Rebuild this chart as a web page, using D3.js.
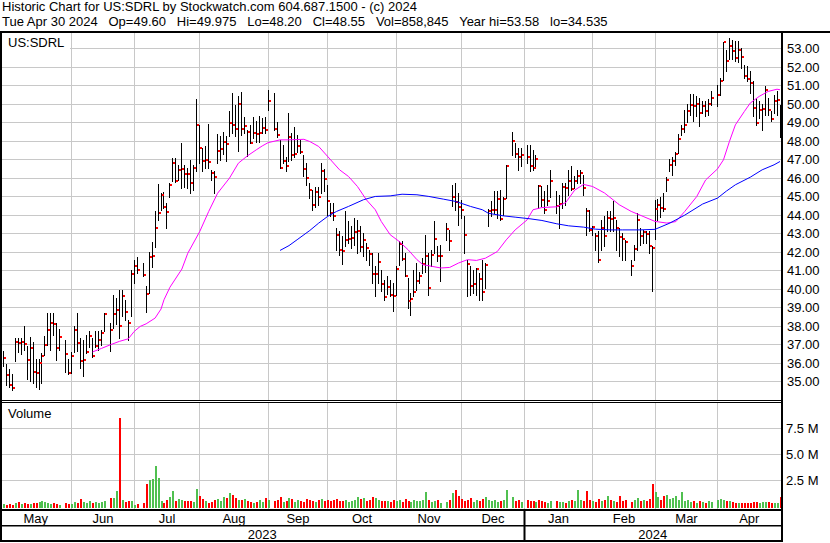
<!DOCTYPE html>
<html><head><meta charset="utf-8">
<script src="https://cdn.jsdelivr.net/npm/d3@7"></script>
<style>
html,body{margin:0;padding:0;background:#fff}
svg{display:block}
text{font-family:"Liberation Sans",Arial,sans-serif;font-size:13px;fill:#000}
</style>
</head><body>
<svg id="c" width="830" height="543"></svg>
<script>
// ---------- DATA ----------
const titleLine1 = "Historic Chart for US:SDRL by Stockwatch.com 604.687.1500 - (c) 2024";
const titleLine2 = "Tue Apr 30 2024   Op=49.60   Hi=49.975   Lo=48.20   Cl=48.55   Vol=858,845   Year hi=53.58   lo=34.535";
const symbolLabel = "US:SDRL";
const volumeLabel = "Volume";
const startDate = "2023-05-01", endDate = "2024-04-30";
const holidays = ["2023-05-29","2023-06-19","2023-07-04","2023-09-04","2023-11-23","2023-12-25","2024-01-01","2024-01-15","2024-02-19","2024-03-29"];
const monthLabels = ["May","Jun","Jul","Aug","Sep","Oct","Nov","Dec","Jan","Feb","Mar","Apr"];
const yearLabels = ["2023","2024"];
const priceTicks = [35,36,37,38,39,40,41,42,43,44,45,46,47,48,49,50,51,52,53];
const volTicks = [2.5,5.0,7.5];
const volTickLabels = ["2.5 M","5.0 M","7.5 M"];

const high = [
/*May*/ 36.63,35.94,35.67,35.42,37.37,37.37,37.37,38.02,36.90,37.42,37.12,36.21,36.21,36.54,37.48,38.70,38.70,38.70,38.16,37.85,37.26,36.23,
/*Jun*/ 36.58,37.98,38.70,37.35,37.26,37.53,37.75,37.35,37.71,37.71,37.80,38.70,38.16,39.66,39.51,39.96,39.96,39.42,38.34,41.01,41.58,
/*Jul*/ 41.76,41.40,40.18,42.00,42.54,44.20,45.69,45.18,45.24,44.64,45.76,47.08,47.08,46.72,47.92,46.72,46.54,46.99,46.72,50.30,
/*Aug*/ 48.88,47.62,47.74,48.91,46.45,46.41,48.39,48.28,48.52,48.28,49.63,50.63,49.96,50.45,50.68,49.29,48.61,48.88,49.33,49.11,49.36,49.24,49.33,
/*Sep*/ 50.77,50.59,49.06,48.07,47.80,47.17,49.51,48.43,48.79,48.34,48.07,47.26,46.81,45.72,45.36,45.54,45.54,46.80,46.50,45.64,
/*Oct*/ 44.65,44.65,43.30,43.12,42.85,44.20,43.66,43.39,43.84,43.75,43.39,43.03,42.49,42.13,41.95,41.23,41.95,41.05,40.50,40.68,40.50,40.32,
/*Nov*/ 41.26,42.58,42.58,41.95,40.60,39.80,41.05,41.41,40.95,41.68,42.94,41.95,42.13,43.66,42.31,42.40,43.57,43.21,45.64,45.73,45.19,
/*Dec*/ 44.83,43.93,41.59,41.23,41.05,41.14,40.86,41.58,41.40,44.32,44.74,45.28,45.28,45.37,45.00,46.72,48.52,47.89,47.62,47.62,
/*Jan*/ 47.80,47.80,47.53,47.26,45.64,45.55,45.28,45.64,46.45,45.30,45.10,45.73,45.73,46.45,46.67,46.09,46.45,46.45,46.18,44.38,44.29,
/*Feb*/ 43.39,43.03,43.12,43.75,43.93,44.20,44.20,44.74,43.75,43.30,43.03,42.67,41.58,42.40,44.11,43.30,43.21,43.12,43.12,42.31,
/*Mar*/ 44.80,44.87,45.00,45.19,46.04,47.05,47.12,47.44,48.38,48.89,49.70,50.00,50.54,50.54,50.42,50.33,50.15,50.15,50.29,50.69,
/*Apr*/ 51.05,51.44,53.39,52.94,53.58,53.48,53.43,53.43,53.03,52.13,52.07,51.77,51.23,50.33,50.15,50.00,50.96,50.33,49.61,50.51,50.69,49.975];

const low = [
/*May*/ 35.82,34.83,34.70,34.535,36.09,36.61,36.48,36.72,35.15,35.03,34.92,34.70,34.60,34.92,36.41,36.99,36.72,37.50,36.14,36.72,35.49,35.42,
/*Jun*/ 35.46,36.61,36.63,35.73,35.28,36.54,36.88,36.30,36.86,36.72,36.99,37.71,36.63,37.89,38.09,37.35,38.52,38.34,37.26,38.52,40.32,
/*Jul*/ 40.86,40.70,38.76,39.78,41.17,42.27,43.75,44.28,44.40,43.33,45.00,45.87,45.81,45.90,45.45,45.51,45.45,45.18,45.36,46.41,
/*Aug*/ 46.84,46.36,46.54,46.57,45.90,45.22,46.81,46.99,47.31,46.90,48.28,48.43,48.28,47.49,48.34,48.43,47.20,47.89,48.16,47.98,47.98,48.43,48.43,
/*Sep*/ 49.69,48.61,48.25,46.54,46.81,46.36,46.90,46.99,47.17,47.44,47.35,46.09,45.63,44.91,44.28,44.46,44.55,45.20,45.30,44.02,
/*Oct*/ 43.93,43.75,42.13,41.86,41.37,42.31,42.49,42.22,42.40,41.95,42.04,41.77,41.59,41.32,40.32,39.64,40.32,39.87,39.42,39.75,39.60,38.79,
/*Nov*/ 39.69,41.32,41.59,40.68,39.00,38.61,39.60,39.96,40.32,40.86,40.95,39.69,41.23,41.95,41.50,40.41,42.67,42.13,44.47,44.29,43.48,
/*Dec*/ 43.84,41.95,39.60,39.69,39.78,39.69,39.42,39.42,40.05,43.42,43.93,44.10,43.84,43.75,44.02,44.92,47.26,47.17,46.45,46.63,
/*Jan*/ 46.81,46.36,46.45,46.63,44.38,44.47,44.10,44.56,45.00,44.10,43.30,44.38,44.56,45.10,45.37,45.46,45.73,45.73,45.10,42.94,43.12,
/*Feb*/ 42.94,42.13,41.49,42.13,42.31,43.12,43.12,43.12,42.13,41.77,41.58,41.58,40.77,41.58,42.13,42.40,42.49,42.49,41.95,39.87,
/*Mar*/ 42.72,43.75,43.90,44.20,45.28,46.36,46.18,46.72,47.35,48.34,48.52,49.03,49.43,49.07,49.34,48.80,49.52,49.34,49.43,49.97,
/*Apr*/ 49.88,50.51,51.32,51.80,52.43,52.45,52.34,52.30,51.95,51.41,51.23,50.60,49.34,48.88,49.25,48.60,49.43,49.43,49.07,49.52,49.43,48.20];

const close = [
/*May*/ 36.25,35.37,34.79,34.67,37.15,37.08,37.15,37.01,36.18,36.80,35.49,35.44,36.00,36.36,36.95,37.80,38.18,38.09,36.80,37.39,36.47,35.44,
/*Jun*/ 36.36,37.80,37.08,36.09,36.14,36.58,37.44,36.40,36.90,37.22,37.60,38.63,37.80,38.66,38.88,37.98,39.60,38.77,38.14,40.83,41.26,
/*Jul*/ 41.04,40.77,39.75,41.71,41.80,43.33,44.14,45.11,44.46,44.18,45.65,46.84,45.87,46.45,46.50,46.25,46.20,45.76,46.57,48.90,
/*Aug*/ 47.63,46.95,46.99,46.86,46.30,46.07,47.49,47.58,47.96,47.87,49.00,48.86,48.66,50.01,48.66,48.82,48.52,47.92,48.46,48.39,48.43,48.72,48.60,
/*Sep*/ 50.17,48.66,48.36,46.55,46.95,46.68,48.23,47.26,47.30,47.76,47.44,46.50,46.01,45.36,44.55,45.26,44.99,46.40,45.96,44.79,
/*Oct*/ 44.14,43.93,42.90,42.09,42.04,42.63,42.72,42.77,43.10,43.15,42.30,42.63,42.22,41.89,40.79,40.83,41.44,40.29,39.55,40.09,39.66,39.60,
/*Nov*/ 41.08,42.45,41.64,40.72,39.33,39.46,39.82,40.41,40.72,41.35,41.80,40.05,41.82,42.70,41.77,41.80,43.26,42.58,44.97,44.70,44.43,
/*Dec*/ 44.29,42.95,41.37,40.18,40.25,41.10,40.56,39.85,41.28,44.20,44.25,44.29,44.88,43.80,44.88,46.66,48.03,47.31,47.17,47.26,
/*Jan*/ 47.17,46.63,46.54,47.02,45.55,44.83,44.29,44.75,45.82,44.50,44.61,45.51,45.44,45.87,45.40,45.87,46.14,46.27,45.46,44.20,43.21,
/*Feb*/ 43.35,42.88,41.55,43.33,42.88,43.84,43.80,43.84,43.33,42.81,42.70,42.52,41.26,42.18,43.71,42.88,43.06,43.00,42.31,42.20,
/*Mar*/ 44.33,44.56,44.40,44.33,45.88,46.72,46.94,47.30,48.13,48.65,48.89,49.61,49.97,49.90,50.02,49.50,49.88,49.61,50.02,50.33,
/*Apr*/ 50.47,51.26,53.35,52.31,53.17,52.88,52.52,52.94,52.56,51.55,51.37,51.17,49.82,48.96,49.70,49.75,50.78,49.70,49.21,50.18,50.24,48.55];

// volume in millions of shares
const volume = [
/*May*/ 0.25,0.15,0.20,0.15,0.30,0.45,0.20,0.30,0.20,0.25,0.35,0.30,0.40,0.50,0.40,0.30,0.25,0.35,0.20,0.15,0.30,0.20,
/*Jun*/ 0.20,0.45,0.30,0.70,0.40,0.30,0.50,0.30,0.40,0.35,0.40,0.50,0.80,0.80,1.50,8.50,0.60,0.40,0.50,0.50,0.15,
/*Jul*/ 0.20,0.30,2.10,2.50,2.60,3.85,2.70,0.50,0.30,0.60,0.90,1.45,0.50,0.70,0.60,0.50,0.50,0.50,0.40,1.70,
/*Aug*/ 1.00,0.70,0.50,0.30,0.40,0.60,0.70,0.50,0.90,0.80,1.30,1.10,0.80,0.60,0.60,0.70,0.50,0.40,0.30,0.40,0.60,0.40,0.80,
/*Sep*/ 0.60,0.50,0.60,0.90,0.40,0.50,0.80,0.70,0.40,0.60,0.50,0.40,0.70,0.60,0.50,0.40,0.60,0.70,0.50,0.60,
/*Oct*/ 0.50,0.60,0.70,0.50,0.50,0.60,0.40,0.50,0.60,0.90,0.70,0.80,0.50,0.60,0.90,0.80,0.60,0.50,0.50,0.50,0.40,0.60,
/*Nov*/ 0.50,0.60,0.40,0.70,0.50,0.40,0.60,0.50,0.50,0.60,1.40,0.60,0.40,0.50,0.60,0.30,0.40,0.60,1.30,1.60,1.00,
/*Dec*/ 0.70,0.50,0.60,0.80,0.40,0.60,0.50,0.70,0.90,0.60,0.50,0.60,0.40,0.50,0.60,1.60,0.90,0.50,0.60,0.40,
/*Jan*/ 0.60,0.50,0.50,0.40,0.60,0.50,0.40,0.30,0.50,0.50,0.40,0.40,0.30,0.50,0.60,0.50,1.55,0.60,0.50,1.45,0.60,
/*Feb*/ 0.50,0.40,0.70,0.50,0.60,1.00,0.60,0.50,0.40,1.00,0.50,0.60,0.40,0.60,0.80,0.50,0.60,0.50,0.70,2.10,
/*Mar*/ 1.35,0.90,0.60,1.00,1.10,0.70,0.80,1.00,0.60,1.40,0.50,0.60,0.40,0.50,0.30,0.50,0.40,0.30,0.50,0.40,
/*Apr*/ 0.60,0.70,0.60,0.50,0.50,0.40,0.30,0.30,0.30,0.35,0.30,0.35,0.45,0.40,0.30,0.45,0.40,0.40,0.30,0.35,0.30,0.86];

// moving averages: weekday slot index -> value
const maFastSlot = [30,33,36,39,42,44,46,48,51,53,54,56,60,62,66,69,72,76,79,82,85,87,89,93,96,101,103,106,113,116,119,122,125,127,130,133,136,139,141,144,147,150,153,156,159,162,166,169,172,176,178,181,186,189,192,195,198,202,207,211,215,219,223,226,229,233,236,240,242,244,246,249,251,254,257,260,261];
const maFastVal  = [36.60,36.79,36.99,37.17,37.31,37.71,37.98,38.12,38.43,38.92,39.42,40.10,41.08,41.94,43.11,44.19,45.18,46.00,46.81,47.20,47.53,47.74,47.92,48.07,48.07,48.10,47.98,47.71,46.45,46.09,45.55,44.83,44.29,43.66,42.94,42.58,42.13,41.59,41.32,41.23,41.14,41.17,41.41,41.59,41.55,41.67,42.03,42.66,43.20,43.74,44.29,44.41,44.45,44.68,45.35,45.66,45.55,45.20,44.56,44.20,43.93,43.66,43.57,43.65,44.20,45.00,45.90,46.50,46.99,47.98,48.88,49.60,50.06,50.42,50.69,50.81,50.78];
const maSlowSlot = [93,96,99,103,106,109,112,116,121,125,130,134,139,143,148,152,157,161,163,168,172,177,181,186,190,195,199,204,208,214,219,224,229,235,240,243,246,251,255,259,261];
const maSlowVal  = [42.09,42.35,42.70,43.17,43.57,43.93,44.20,44.47,44.83,45.01,45.04,45.13,45.10,45.01,44.86,44.74,44.47,44.29,44.10,43.96,43.89,43.80,43.71,43.53,43.42,43.35,43.24,43.20,43.20,43.20,43.23,43.57,44.00,44.60,44.92,45.30,45.64,46.05,46.45,46.72,46.90];

// ---------- BUILD ----------
const W = 830, H = 543;
const svg = d3.select("#c");
const parse = d3.utcParse("%Y-%m-%d"), fmt = d3.utcFormat("%Y-%m-%d");
const weekdays = d3.utcDays(parse(startDate), d3.utcDay.offset(parse(endDate), 1)).filter(d => d.getUTCDay() % 6 !== 0);
const hol = new Set(holidays);
const trading = [];
weekdays.forEach((d, i) => { if (!hol.has(fmt(d))) trading.push({date: d, slot: i}); });
if (trading.length !== high.length || high.length !== low.length || low.length !== close.length || close.length !== volume.length)
  console.error("length mismatch", trading.length, high.length, low.length, close.length, volume.length);
const bars = trading.map((t, j) => ({slot: t.slot, h: high[j], l: low[j], c: close[j], v: volume[j],
  up: j === 0 ? true : close[j] >= close[j - 1]}));

const plotL = 2, plotR = 781, priceTop = 33, priceBot = 400, volTop = 403, volBase = 506.3;
const x = d3.scaleLinear().domain([0, weekdays.length - 1]).range([2.8, 779.5]);
const yP = d3.scaleLinear().domain([34, 53.85]).range([priceBot, priceTop]);
const yV = d3.scaleLinear().domain([0, 9.93]).range([volBase, volTop]);
const px = s => Math.round(x(s)) + 0.5;
const gy = v => Math.floor(v) + 0.5;

// month grid slots: last weekday on/before the 1st of each month
const monthStarts = d3.utcMonths(d3.utcMonth.offset(parse(startDate), 1), d3.utcDay.offset(parse(endDate), 1));
const gridSlots = monthStarts.map(m => d3.bisectRight(weekdays, m) - 1);
const gridX = gridSlots.map(s => px(s));
const gridColor = "#c8c8c8";

// background
svg.append("rect").attr("width", W).attr("height", H).attr("fill", "#fff");

// header
svg.append("text").attr("x", 2).attr("y", 11).style("white-space", "pre").text(titleLine1);
svg.append("text").attr("x", 2).attr("y", 26).style("white-space", "pre").text(titleLine2);

// grids - price
const g = svg.append("g");
g.selectAll(".hp").data(priceTicks).join("line")
  .attr("x1", plotL).attr("x2", plotR).attr("y1", d => gy(yP(d))).attr("y2", d => gy(yP(d)))
  .attr("stroke", gridColor).attr("stroke-width", 1);
g.selectAll(".vp").data(gridX).join("line")
  .attr("x1", d => d).attr("x2", d => d).attr("y1", priceTop).attr("y2", priceBot)
  .attr("stroke", gridColor).attr("stroke-width", 1);
// grids - volume
g.selectAll(".hv").data(volTicks).join("line")
  .attr("x1", plotL).attr("x2", plotR).attr("y1", d => gy(yV(d))).attr("y2", d => gy(yV(d)))
  .attr("stroke", gridColor).attr("stroke-width", 1);
g.selectAll(".vv").data(gridX).join("line")
  .attr("x1", d => d).attr("x2", d => d).attr("y1", volTop).attr("y2", 509)
  .attr("stroke", gridColor).attr("stroke-width", 1);

// label boxes
svg.append("rect").attr("x", 2).attr("y", 33).attr("width", 68).attr("height", 17).attr("fill", "#fff");
svg.append("text").attr("x", 8).attr("y", 46.7).text(symbolLabel);
svg.append("text").attr("x", 8).attr("y", 417.7).text(volumeLabel);

// volume bars
svg.append("g").selectAll("rect").data(bars).join("rect")
  .attr("x", d => Math.round(x(d.slot))).attr("width", 2)
  .attr("y", d => Math.round(yV(d.v))).attr("height", d => 508 - Math.round(yV(d.v)))
  .attr("fill", d => d.up ? "#50c050" : "#ff0000");

// price bars
const pb = svg.append("g");
pb.selectAll("line").data(bars).join("line")
  .attr("x1", d => px(d.slot)).attr("x2", d => px(d.slot))
  .attr("y1", d => Math.round(yP(d.h))).attr("y2", d => Math.round(yP(d.l)) + 1)
  .attr("stroke", "#000").attr("stroke-width", 1);

// moving averages
const line = d3.line().x(d => x(d[0]) + 0.5).y(d => yP(d[1]));
svg.append("path").datum(maFastSlot.map((s, i) => [s, maFastVal[i]]))
  .attr("d", line).attr("fill", "none").attr("stroke", "#ff00ff").attr("stroke-width", 1);
svg.append("path").datum(maSlowSlot.map((s, i) => [s, maSlowVal[i]]))
  .attr("d", line).attr("fill", "none").attr("stroke", "#0000ff").attr("stroke-width", 1);

// close ticks
pb.selectAll("rect").data(bars).join("rect")
  .attr("x", d => Math.round(x(d.slot)) + 1).attr("y", d => Math.round(yP(d.c)) - 1)
  .attr("width", 2).attr("height", 2).attr("fill", "#ff0000");

// frame lines
const blk = (xx, yy, w, h) => svg.append("rect").attr("x", xx).attr("y", yy).attr("width", w).attr("height", h).attr("fill", "#000");
blk(0, 31, W, 2);           // top rule
blk(0, 31, 2, 511);         // left
blk(781, 31, 2, 511);       // right of plot
blk(0, 400, 783, 1);        // price bottom
blk(0, 402, 783, 1);        // volume top
blk(0, 509, 783, 2);        // volume bottom
blk(0, 525, 783, 1.5);      // month/year separator
blk(0, 540, 783, 2);        // bottom
const janIdx = monthStarts.findIndex(m => m.getUTCMonth() === 0);
blk(gridX[janIdx] - 1, 509, 2, 33);

// price axis labels
svg.append("g").selectAll("text").data(priceTicks).join("text")
  .attr("x", 787).attr("y", d => yP(d) + 4.6).text(d => d.toFixed(2));
// volume axis labels
svg.append("g").selectAll("text").data(volTicks).join("text")
  .attr("x", 786).attr("y", d => yV(d) + 4.5).text((d, i) => volTickLabels[i]);

// month labels
const bounds = [0, ...gridX, plotR];
svg.append("g").selectAll("text").data(monthLabels).join("text")
  .attr("x", (d, i) => (bounds[i] + bounds[i + 1]) / 2).attr("y", 522.5)
  .attr("text-anchor", "middle").text(d => d);
// year labels
const yb = [0, gridX[janIdx], plotR];
svg.append("g").selectAll("text").data(yearLabels).join("text")
  .attr("x", (d, i) => (yb[i] + yb[i + 1]) / 2).attr("y", 538.5)
  .attr("text-anchor", "middle").text(d => d);
</script>
</body></html>
